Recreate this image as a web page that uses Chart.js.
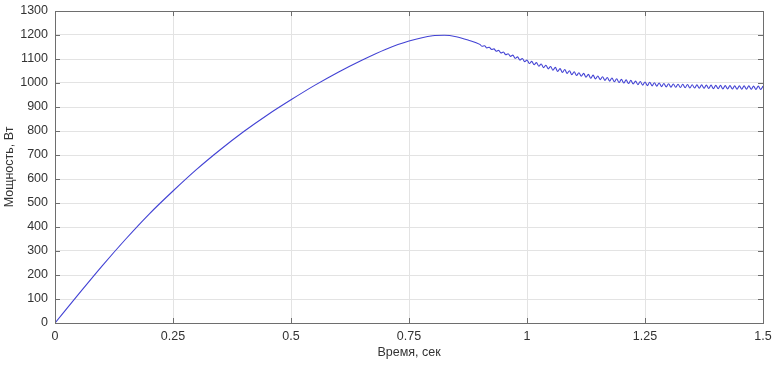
<!DOCTYPE html>
<html>
<head>
<meta charset="utf-8">
<script src="https://cdn.jsdelivr.net/npm/chart.js@4/dist/chart.umd.min.js"></script>
<style>
  html, body { margin: 0; padding: 0; background: #fff; }
  #wrap { width: 778px; height: 369px; }
</style>
</head>
<body>
<div id="wrap"><canvas id="chart" width="778" height="369"></canvas></div>
<script>
// время, сек (smooth rise, then the rippled part every 0.005 s)
const times = [
  0, 0.05, 0.1, 0.15, 0.2, 0.25, 0.3, 0.35, 0.4, 0.45, 0.5, 0.55, 0.6, 0.65, 0.7, 0.75, 0.8, 0.825, 0.85, 0.875,
  0.9, 0.905, 0.91, 0.915, 0.92, 0.925, 0.93, 0.935, 0.94, 0.945, 0.95, 0.955, 0.96, 0.965, 0.97, 0.975, 0.98, 0.985, 0.99, 0.995,
  1, 1.005, 1.01, 1.015, 1.02, 1.025, 1.03, 1.035, 1.04, 1.045, 1.05, 1.055, 1.06, 1.065, 1.07, 1.075, 1.08, 1.085, 1.09, 1.095,
  1.1, 1.105, 1.11, 1.115, 1.12, 1.125, 1.13, 1.135, 1.14, 1.145, 1.15, 1.155, 1.16, 1.165, 1.17, 1.175, 1.18, 1.185, 1.19, 1.195,
  1.2, 1.205, 1.21, 1.215, 1.22, 1.225, 1.23, 1.235, 1.24, 1.245, 1.25, 1.255, 1.26, 1.265, 1.27, 1.275, 1.28, 1.285, 1.29, 1.295,
  1.3, 1.305, 1.31, 1.315, 1.32, 1.325, 1.33, 1.335, 1.34, 1.345, 1.35, 1.355, 1.36, 1.365, 1.37, 1.375, 1.38, 1.385, 1.39, 1.395,
  1.4, 1.405, 1.41, 1.415, 1.42, 1.425, 1.43, 1.435, 1.44, 1.445, 1.45, 1.455, 1.46, 1.465, 1.47, 1.475, 1.48, 1.485, 1.49, 1.495,
  1.5
];

// мощность, Вт
const power = [
  0, 120, 238, 350, 455, 550, 640, 722, 798, 867, 930, 990, 1045, 1095, 1140, 1175, 1197, 1199, 1193, 1179,
  1161, 1153, 1155, 1146, 1149, 1140, 1142, 1132, 1136, 1125, 1129, 1118, 1122, 1111, 1116, 1103, 1109, 1096, 1102, 1089,
  1096, 1081, 1090, 1076, 1085, 1070, 1079, 1064, 1074, 1059, 1069, 1053, 1065, 1048, 1060, 1044, 1056, 1040, 1051, 1035,
  1047, 1031, 1043, 1028, 1040, 1024, 1036, 1020, 1033, 1017, 1029, 1014, 1026, 1011, 1023, 1008, 1021, 1005, 1018, 1002,
  1015, 1000, 1013, 998, 1011, 996, 1008, 993, 1006, 991, 1004, 989, 1003, 988, 1001, 987, 1000, 985, 998, 984,
  997, 983, 996, 982, 995, 981, 995, 980, 994, 979, 993, 979, 992, 978, 992, 978, 991, 977, 991, 976,
  990, 976, 990, 975, 989, 975, 989, 975, 988, 974, 988, 974, 988, 974, 988, 974, 987, 973, 987, 973,
  987
];

const xTitle = "Время, сек";
const yTitle = "Мощность, Вт";

const points = times.map((t, i) => ({ x: t, y: power[i] }));

// MATLAB style box with inward ticks
const boxPlugin = {
  id: "box",
  afterDraw(c) {
    const ctx = c.ctx;
    const a = c.chartArea;
    const xs = c.scales.x, ys = c.scales.y;
    ctx.save();
    ctx.strokeStyle = "#6e6e6e";
    ctx.lineWidth = 1;
    ctx.strokeRect(Math.round(a.left) + 0.5, Math.round(a.top) + 0.5,
      Math.round(a.right - a.left), Math.round(a.bottom - a.top));
    ctx.beginPath();
    xs.ticks.forEach(t => {
      const px = Math.round(xs.getPixelForValue(t.value)) + 0.5;
      ctx.moveTo(px, a.bottom); ctx.lineTo(px, a.bottom - 5);
      ctx.moveTo(px, a.top); ctx.lineTo(px, a.top + 5);
    });
    ys.ticks.forEach(t => {
      const py = Math.round(ys.getPixelForValue(t.value)) + 0.5;
      ctx.moveTo(a.left, py); ctx.lineTo(a.left + 5, py);
      ctx.moveTo(a.right, py); ctx.lineTo(a.right - 5, py);
    });
    ctx.stroke();
    ctx.restore();
  }
};

const font = { family: "'Liberation Sans', Arial, sans-serif", size: 12.5 };

new Chart(document.getElementById("chart"), {
  type: "line",
  data: {
    datasets: [{
      data: points,
      borderColor: "#4242d4",
      borderWidth: 1.1,
      pointRadius: 0,
      fill: false,
      cubicInterpolationMode: "monotone"
    }]
  },
  options: {
    responsive: false,
    animation: false,
    devicePixelRatio: 1,
    layout: { padding: { top: 0, right: 15, left: 2, bottom: 9 } },
    plugins: { legend: { display: false }, tooltip: { enabled: false } },
    scales: {
      x: {
        type: "linear",
        min: 0,
        max: 1.5,
        ticks: { stepSize: 0.25, color: "#333", font, padding: 6, maxRotation: 0, callback: v => String(v) },
        grid: { color: "#e3e3e3", drawTicks: false },
        border: { display: false },
        title: { display: true, text: xTitle, color: "#333", font, padding: { top: 0, bottom: 0 } },
        afterFit(s) { s.height = 37; }
      },
      y: {
        min: 0,
        max: 1300,
        ticks: { stepSize: 100, color: "#333", font, padding: 7, callback: v => String(v) },
        grid: { color: "#e3e3e3", drawTicks: false },
        border: { display: false },
        title: { display: true, text: yTitle, color: "#333", font, padding: { top: 0, bottom: 0 } },
        afterFit(s) { s.width = 53; s.paddingTop = 11; }
      }
    }
  },
  plugins: [boxPlugin]
});
</script>
</body>
</html>
